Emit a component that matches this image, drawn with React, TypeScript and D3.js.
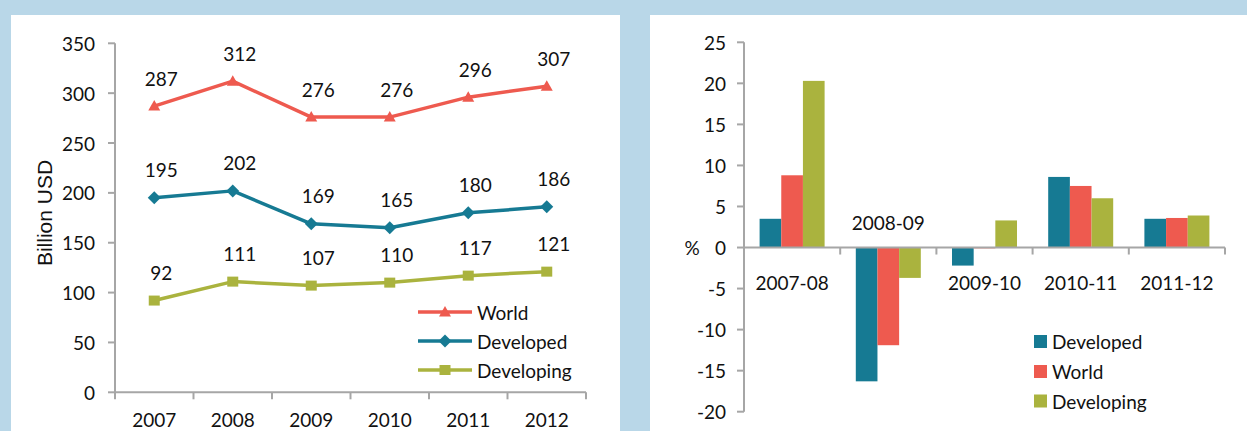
import React from "react";
import * as d3 from "d3";

const years = ["2007", "2008", "2009", "2010", "2011", "2012"];
const worldValues = [287, 312, 276, 276, 296, 307];
const developedValues = [195, 202, 169, 165, 180, 186];
const developingValues = [92, 111, 107, 110, 117, 121];
const leftTicks = [0, 50, 100, 150, 200, 250, 300, 350];

const periods = ["2007-08", "2008-09", "2009-10", "2010-11", "2011-12"];
const growthDeveloped = [3.5, -16.3, -2.2, 8.6, 3.5];
const growthWorld = [8.8, -11.9, -0.1, 7.5, 3.6];
const growthDeveloping = [20.3, -3.7, 3.3, 6.0, 3.9];
const rightTicks = [-20, -15, -10, -5, 0, 5, 10, 15, 20, 25];

const RED = "#ee5a4f";
const TEAL = "#167a93";
const OLIVE = "#aab33e";
const BG = "#b9d7e8";
const AXIS = "#a6a6a6";
const FONT = "Lato, 'Open Sans', sans-serif";
const TXT = "#111";
const FS = 19;

const lineSeries = [
  { name: "World", values: worldValues, color: RED, marker: "triangle" },
  { name: "Developed", values: developedValues, color: TEAL, marker: "diamond" },
  { name: "Developing", values: developingValues, color: OLIVE, marker: "square" },
];

const barSeries = [
  { name: "Developed", values: growthDeveloped, color: TEAL },
  { name: "World", values: growthWorld, color: RED },
  { name: "Developing", values: growthDeveloping, color: OLIVE },
];

function Marker({ type, x, y, color }: { type: string; x: number; y: number; color: string }) {
  if (type === "triangle") {
    return <path d={`M${x},${y - 6} L${x + 6},${y + 4.5} L${x - 6},${y + 4.5} Z`} fill={color} />;
  }
  if (type === "diamond") {
    return <path d={`M${x},${y - 6.5} L${x + 6.5},${y} L${x},${y + 6.5} L${x - 6.5},${y} Z`} fill={color} />;
  }
  return <rect x={x - 5.5} y={y - 5} width={11} height={10} fill={color} />;
}

export default function App() {
  const xL = d3.scaleBand<string>().domain(years).range([115, 586]);
  const yL = d3.scaleLinear().domain([0, 350]).range([392.3, 43.3]);
  const cx = (d: string) => (xL(d) as number) + xL.bandwidth() / 2;
  const lineGen = (vals: number[]) =>
    d3
      .line<number>()
      .x((_, i) => cx(years[i]))
      .y((v) => yL(v))(vals) as string;

  const xR = d3.scaleBand<string>().domain(periods).range([744, 1225]);
  const yR = d3.scaleLinear().domain([-20, 25]).range([411.7, 42.3]);
  const groupW = 65;
  const xInner = d3
    .scaleBand<string>()
    .domain(barSeries.map((s) => s.name))
    .range([0, groupW]);

  const leftBoundaries = years.map((y) => xL(y) as number).concat([586]);
  const rightBoundaries = periods.map((p) => xR(p) as number).concat([1225]);

  return (
    <svg
      width={1247}
      height={431}
      style={{ position: "absolute", left: 0, top: 0, display: "block" }}
      fontFamily={FONT}
    >
      <rect x={0} y={0} width={1247} height={431} fill={BG} />
      <rect x={11} y={15} width={609} height={416} fill="#fff" />
      <rect x={650} y={15} width={597} height={416} fill="#fff" />

      {/* ---------- Left chart ---------- */}
      <g>
        <line x1={115} y1={yL(350)} x2={115} y2={yL(0)} stroke={AXIS} strokeWidth={2} />
        {leftTicks.map((t) => (
          <g key={t}>
            <line x1={108} x2={115} y1={yL(t)} y2={yL(t)} stroke={AXIS} strokeWidth={2} />
            <text x={95} y={yL(t)} textAnchor="end" dominantBaseline="central" fontSize={FS} fill={TXT}>
              {t}
            </text>
          </g>
        ))}
        <line x1={115} y1={yL(0)} x2={586} y2={yL(0)} stroke={AXIS} strokeWidth={2} />
        {leftBoundaries.map((b, i) => (
          <line key={i} x1={b} x2={b} y1={yL(0)} y2={yL(0) + 7} stroke={AXIS} strokeWidth={2} />
        ))}
        {years.map((y) => (
          <text key={y} x={cx(y)} y={419} textAnchor="middle" dominantBaseline="central" fontSize={FS} fill={TXT}>
            {y}
          </text>
        ))}
        <text
          transform={`translate(44,213) rotate(-90)`}
          textAnchor="middle"
          dominantBaseline="central"
          fontSize={21}
          fontFamily="'Liberation Sans', Arial, sans-serif"
          fill={TXT}
        >
          Billion USD
        </text>

        {lineSeries.map((s) => (
          <g key={s.name}>
            <path d={lineGen(s.values)} fill="none" stroke={s.color} strokeWidth={3.5} strokeLinejoin="round" />
            {s.values.map((v, i) => (
              <Marker key={i} type={s.marker} x={cx(years[i])} y={yL(v)} color={s.color} />
            ))}
            {s.values.map((v, i) => (
              <text
                key={"l" + i}
                x={cx(years[i]) + 7}
                y={yL(v) - 28}
                textAnchor="middle"
                dominantBaseline="central"
                fontSize={FS}
                fill={TXT}
              >
                {v}
              </text>
            ))}
          </g>
        ))}

        {lineSeries.map((s, i) => {
          const ry = [312, 341, 370][i];
          return (
            <g key={"lg" + s.name}>
              <line x1={418} x2={472} y1={ry} y2={ry} stroke={s.color} strokeWidth={3.5} />
              <Marker type={s.marker} x={445} y={ry} color={s.color} />
              <text x={477} y={ry} dominantBaseline="central" fontSize={FS} fill={TXT}>
                {s.name}
              </text>
            </g>
          );
        })}
      </g>

      {/* ---------- Right chart ---------- */}
      <g>
        {barSeries.map((s) =>
          s.values.map((v, i) => {
            const p = periods[i];
            const x0 = (xR(p) as number) + xR.bandwidth() / 2 - groupW / 2 + (xInner(s.name) as number);
            const y0 = yR(Math.max(0, v));
            const h = Math.abs(yR(v) - yR(0));
            return <rect key={s.name + i} x={x0} y={y0} width={xInner.bandwidth()} height={h} fill={s.color} />;
          })
        )}
        <line x1={744} y1={yR(25)} x2={744} y2={yR(-20)} stroke={AXIS} strokeWidth={2} />
        {rightTicks.map((t) => (
          <g key={t}>
            <line x1={737} x2={744} y1={yR(t)} y2={yR(t)} stroke={AXIS} strokeWidth={2} />
            <text x={726} y={yR(t)} textAnchor="end" dominantBaseline="central" fontSize={FS} fill={TXT}>
              {t}
            </text>
          </g>
        ))}
        <line x1={744} y1={yR(0)} x2={1225} y2={yR(0)} stroke={AXIS} strokeWidth={2} />
        {rightBoundaries.map((b, i) => (
          <line key={i} x1={b} x2={b} y1={yR(0)} y2={yR(0) + 7} stroke={AXIS} strokeWidth={2} />
        ))}
        {periods.map((p, i) => {
          const minV = Math.min(growthDeveloped[i], growthWorld[i], growthDeveloping[i]);
          const ly = minV < -5 ? yR(0) - 25 : yR(0) + 35;
          return (
            <text
              key={p}
              x={(xR(p) as number) + xR.bandwidth() / 2}
              y={ly}
              textAnchor="middle"
              dominantBaseline="central"
              fontSize={FS}
              fill={TXT}
            >
              {p}
            </text>
          );
        })}
        <text x={692} y={yR(0)} textAnchor="middle" dominantBaseline="central" fontSize={FS} fill={TXT}>
          %
        </text>

        {barSeries.map((s, i) => {
          const ry = [341.5, 371.5, 401][i];
          return (
            <g key={"rl" + s.name}>
              <rect x={1034} y={ry - 6.5} width={13} height={13} fill={s.color} />
              <text x={1052} y={ry} dominantBaseline="central" fontSize={FS} fill={TXT}>
                {s.name}
              </text>
            </g>
          );
        })}
      </g>
    </svg>
  );
}
